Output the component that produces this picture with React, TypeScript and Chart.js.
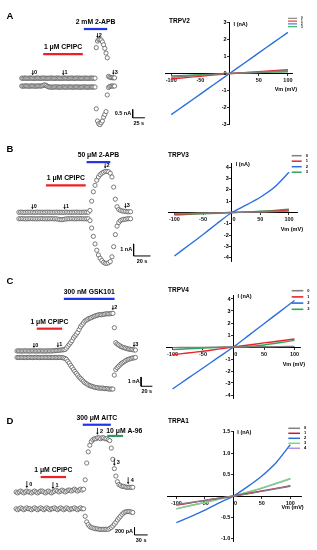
import React, { useEffect, useRef } from "react";
import { Chart, registerables } from "chart.js";
Chart.register(...registerables);

const FONT = '"Liberation Sans", Arial, Helvetica, sans-serif';

// ================= Time courses (upper: +100 mV, lower: -100 mV) =================
// Panel A (nA, sample interval 2.5 s)
const A_DT = 2.5;
const A_UPPER = [
  0.25, 0.24, 0.26, 0.25, 0.25, 0.24, 0.25, 0.26, 0.25, 0.25,
  0.24, 0.25, 0.25, 0.26, 0.25, 0.24, 0.25, 0.25, 0.26, 0.25,
  0.25, 0.24, 0.25, 0.25, 0.26, 0.25, 0.25, 0.24, 0.25, 0.26,
  0.25, 0.25, 0.24, 0.25, 0.25, 0.26, 0.25, 0.25, 0.24, 0.25,
  0.25, 0.26, 0.25, 0.24, 0.25, 0.25, 0.26, 0.25, 0.25, 0.24,
  0.25, 0.25, 0.26, 0.25, 0.24, 0.25, 0.25, 0.26, 0.25, 0.25,
  0.25,
  2.08, 2.47, 2.56, 2.56, 2.53, 2.42, 2.25, 2.03, 1.75, 1.47,
  0.36, 0.31, 0.28, 0.28, 0.27, 0.27,
];
const A_LOWER = [
  -0.22, -0.23, -0.22, -0.21, -0.22, -0.22, -0.23, -0.22, -0.21, -0.22,
  -0.22, -0.23, -0.22, -0.22, -0.21, -0.22, -0.22, -0.2, -0.17, -0.15,
  -0.18, -0.24, -0.27, -0.28, -0.28, -0.29, -0.28, -0.28, -0.27, -0.28,
  -0.28, -0.29, -0.28, -0.28, -0.27, -0.28, -0.29, -0.28, -0.28, -0.27,
  -0.28, -0.28, -0.29, -0.28, -0.28, -0.27, -0.28, -0.28, -0.29, -0.28,
  -0.28, -0.27, -0.28, -0.28, -0.29, -0.28, -0.28, -0.27, -0.28, -0.28,
  -0.28,
  -1.58, -2.31, -2.47, -2.53, -2.42, -2.31, -2.08, -1.92, -1.75, -0.75,
  -0.31, -0.25, -0.22, -0.22, -0.22, -0.22,
];

// Panel B (nA, sample interval 2 s)
const B_DT = 2;
const B_UPPER = [
  0.27, 0.28, 0.27, 0.26, 0.27, 0.27, 0.28, 0.27, 0.27, 0.26,
  0.27, 0.28, 0.27, 0.27, 0.26, 0.27, 0.27, 0.28, 0.27, 0.27,
  0.26, 0.27, 0.28, 0.27, 0.27, 0.27, 0.26, 0.27, 0.28, 0.27,
  0.27, 0.26, 0.27, 0.27, 0.28, 0.27, 0.27, 0.26, 0.27, 0.28,
  0.27, 0.27,
  0.42, 1.19, 1.96, 2.5, 2.92, 3.19, 3.38, 3.5, 3.58, 3.65,
  3.65, 3.62, 3.5, 3.19, 2.35, 1.35, 0.73, 0.5, 0.42, 0.38,
  0.35, 0.35, 0.31, 0.31, 0.31,
];
const B_LOWER = [
  -0.27, -0.27, -0.26, -0.27, -0.28, -0.27, -0.27, -0.26, -0.27, -0.27,
  -0.28, -0.27, -0.27, -0.26, -0.27, -0.27, -0.28, -0.27, -0.27, -0.26,
  -0.27, -0.28, -0.27, -0.3, -0.33, -0.35, -0.33, -0.3, -0.28, -0.27,
  -0.27, -0.26, -0.27, -0.28, -0.27, -0.27, -0.26, -0.27, -0.27, -0.28,
  -0.27, -0.27,
  -0.42, -1.04, -1.73, -2.35, -2.88, -3.27, -3.54, -3.73, -3.88, -3.96,
  -3.96, -3.92, -3.81, -3.42, -2.58, -1.58, -0.88, -0.58, -0.42, -0.35,
  -0.31, -0.31, -0.27, -0.27, -0.27,
];

// Panel C (nA, sample interval 2.5 s)
const C_DT = 2.5;
const C_UPPER = [
  0.3, 0.31, 0.3, 0.29, 0.3, 0.3, 0.31, 0.3, 0.3, 0.29,
  0.3, 0.31, 0.3, 0.3, 0.29, 0.3, 0.31, 0.3, 0.3, 0.3,
  0.29, 0.3, 0.31, 0.3, 0.3, 0.31, 0.32, 0.33, 0.35, 0.36,
  0.38, 0.4, 0.41, 0.43, 0.45,
  0.6, 0.8, 1.0, 1.2, 1.4, 1.7, 1.9, 2.1, 2.3, 2.6,
  2.9, 3.1, 3.3, 3.5, 3.6, 3.7, 3.8, 3.85, 3.9, 4.0,
  4.05, 4.1, 4.15, 4.2, 4.2, 4.2, 4.25, 4.25, 4.3, 4.3,
  4.3, 4.3, 4.35, 4.35,
  2.8,
  1.2, 1.05, 0.95, 0.85, 0.75, 0.7, 0.65, 0.6, 0.55, 0.5,
  0.5, 0.45, 0.45, 0.4, 0.4,
];
const C_LOWER = [
  -0.4, -0.41, -0.4, -0.39, -0.4, -0.4, -0.41, -0.4, -0.4, -0.39,
  -0.4, -0.41, -0.4, -0.4, -0.39, -0.4, -0.41, -0.4, -0.4, -0.4,
  -0.39, -0.4, -0.41, -0.4, -0.4, -0.41, -0.4, -0.39, -0.4, -0.41,
  -0.4, -0.4, -0.42, -0.45, -0.5,
  -0.6, -0.8, -1.0, -1.25, -1.45, -1.7, -1.9, -2.1, -2.3, -2.5,
  -2.65, -2.8, -2.95, -3.1, -3.2, -3.3, -3.4, -3.45, -3.5, -3.55,
  -3.6, -3.65, -3.65, -3.7, -3.7, -3.7, -3.7, -3.75, -3.75, -3.75,
  -3.8, -3.8, -3.8, -3.8,
  -2.3,
  -1.7, -1.5, -1.35, -1.2, -1.05, -0.95, -0.85, -0.75, -0.65, -0.6,
  -0.55, -0.5, -0.45, -0.45, -0.4,
];

// Panel D (pA, sample interval 3.5 s)
const D_DT = 3.5;
const D_UPPER = [
  225, 200, 225, 250, 225, 200, 225, 250, 225, 225,
  200, 225, 250, 225, 200, 225, 250, 250, 225, 200,
  225, 250, 225, 200, 225, 250, 275, 250, 225, 250,
  275, 250, 225, 250, 275, 275, 250, 275, 300, 275,
  250, 275, 300, 275, 300,
  550, 1000, 1300, 1475, 1575, 1625, 1650,
  1650, 1675, 1675, 1650, 1675, 1675, 1650, 1650, 1625, 1600,
  1400, 1100, 850, 650, 500, 425,
  400, 375, 375, 362, 350, 350, 350, 350, 350,
];
const D_LOWER = [
  -225, -250, -225, -200, -225, -250, -225, -200, -225, -225,
  -250, -225, -200, -225, -250, -225, -200, -225, -250, -225,
  -200, -225, -250, -225, -225, -200, -225, -250, -225, -200,
  -225, -250, -225, -200, -225, -250, -225, -225, -200, -225,
  -250, -225, -200, -225, -225,
  -425, -575, -650, -700, -725, -737, -750, -762, -762, -775,
  -775, -775, -775, -775, -775, -775, -750, -725, -687, -637,
  -587, -525, -475, -425, -375, -337, -312, -300, -300, -300,
  -312, -325,
];

// Drug applications (time in s, level in current units of the panel)
const RED = "#ee2027";
const BLUE = "#1f35e6";
const DGREEN = "#2f9a5c";
const A_DRUGS = [
  { label: "1 \u03bcM CPIPC", from: 44, to: 125, level: 1.69, color: RED },
  { label: "2 mM 2-APB", from: 127, to: 175, level: 3.19, color: BLUE },
];
const B_DRUGS = [
  { label: "1 \u03bcM CPIPC", from: 32, to: 79, level: 2.5, color: RED },
  { label: "50 \u03bcM 2-APB", from: 80, to: 108, level: 4.42, color: BLUE },
];
const C_DRUGS = [
  { label: "1 \u03bcM CPIPC", from: 35, to: 80, level: 2.7, color: RED },
  { label: "300 nM GSK101", from: 83, to: 173, level: 5.9, color: BLUE },
];
const D_DRUGS = [
  { label: "1 \u03bcM CPIPC", from: 56, to: 114, level: 625, color: RED },
  { label: "300 \u03bcM AITC", from: 152, to: 216, level: 2025, color: BLUE },
  { label: "10 \u03bcM A-96", from: 208, to: 244, level: 1725, color: DGREEN, align: "left", dy: -4.5 },
];

// Scale bars
const A_SCALE = { t: 227, i: -2.12, dt: 25, di: 0.5, tLabel: "25 s", iLabel: "0.5 nA" };
const B_SCALE = { t: 135.6, i: -3.35, dt: 20, di: 1, tLabel: "20 s", iLabel: "1 nA" };
const C_SCALE = { t: 220, i: -3.5, dt: 20, di: 1, tLabel: "20 s", iLabel: "1 nA" };
const D_SCALE = { t: 270, i: -925, dt: 30, di: 200, tLabel: "30 s", iLabel: "200 pA" };

// Ramp markers (sample index)
const A_MARKS = [{ label: "0", k: 9 }, { label: "1", k: 34 }, { label: "2", k: 62 }, { label: "3", k: 75 }];
const B_MARKS = [{ label: "0", k: 8 }, { label: "1", k: 27 }, { label: "2", k: 51 }, { label: "3", k: 63 }];
const C_MARKS = [{ label: "0", k: 12 }, { label: "1", k: 29 }, { label: "2", k: 68 }, { label: "3", k: 83 }];
const D_MARKS = [{ label: "0", k: 7 }, { label: "1", k: 24 }, { label: "2", k: 53 }, { label: "3", k: 64 }, { label: "4", k: 73 }];

// ================= I–V relations =================
const IV_VM = [-100, -75, -50, -25, 0, 25, 50, 75, 100];
const IV_X_TICKS = [-100, -50, 0, 50, 100];

const A_IV0 = [-0.22, -0.16, -0.11, -0.05, 0, 0.04, 0.08, 0.12, 0.16];
const A_IV1 = [-0.32, -0.24, -0.16, -0.08, 0, 0.05, 0.11, 0.16, 0.22];
const A_IV2 = [-2.42, -1.82, -1.21, -0.6, 0, 0.6, 1.21, 1.82, 2.42];
const A_IV3 = [-0.15, -0.11, -0.07, -0.04, 0, 0.03, 0.05, 0.08, 0.1];
const A_Y_TICKS = [-3, -2, -1, 0, 1, 2, 3];

const B_IV0 = [-0.1, -0.08, -0.05, -0.03, 0, 0.02, 0.05, 0.08, 0.12];
const B_IV1 = [-0.15, -0.11, -0.08, -0.04, 0, 0.03, 0.07, 0.12, 0.2];
const B_IV2 = [-3.85, -2.9, -1.95, -0.95, 0, 0.65, 1.35, 2.25, 3.56];
const B_IV3 = [-0.22, -0.17, -0.12, -0.06, 0, 0.05, 0.11, 0.19, 0.3];
const B_Y_TICKS = [-4, -3, -2, -1, 0, 1, 2, 3, 4];

const C_IV0 = [-0.05, -0.04, -0.03, -0.01, 0, 0.01, 0.02, 0.03, 0.05];
const C_IV1 = [-0.64, -0.5, -0.35, -0.18, 0, 0.17, 0.34, 0.5, 0.67];
const C_IV2 = [-3.5, -2.62, -1.75, -0.87, 0, 0.97, 1.94, 2.91, 3.88];
const C_IV3 = [-0.22, -0.15, -0.09, -0.04, 0, 0.04, 0.17, 0.35, 0.55];
const C_Y_TICKS = [-4, -3, -2, -1, 0, 1, 2, 3, 4];

const D_IV0 = [-0.2, -0.15, -0.1, -0.05, 0, 0.05, 0.11, 0.17, 0.23];
const D_IV1 = [-0.21, -0.16, -0.1, -0.05, 0, 0.06, 0.12, 0.18, 0.24];
const D_IV2 = [-0.62, -0.48, -0.33, -0.16, 0, 0.22, 0.47, 0.78, 1.2];
const D_IV3 = [-0.3, -0.22, -0.15, -0.07, 0, 0.09, 0.19, 0.3, 0.41];
const D_IV4 = [-0.3, -0.22, -0.15, -0.07, 0, 0.09, 0.18, 0.29, 0.4];
const D_Y_TICKS = [-1, -0.5, 0, 0.5, 1, 1.5];

const GRAY = "#808080";
const IV_RED = "#e8252c";
const IV_BLUE = "#2a6fe0";
const IV_GREEN = "#31a55c";
const D_RED = "#c8163f";
const D_GREEN = "#7bd67b";
const D_PURPLE = "#b28ee8";

// ================= Layout =================
const LEFT_W = 160;
const RIGHT_X = 160;
const RIGHT_W = 157;

const TRACE_PANELS = [
  { letter: "A", letterY: 16, top: 0, height: 135, dt: A_DT, upper: A_UPPER, lower: A_LOWER, x0: 18, kx: 0.52, y0: 83.5, ky: 18, drugs: A_DRUGS, scale: A_SCALE, marks: A_MARKS, markLen: 5, markGap: 1.3 },
  { letter: "B", letterY: 14, top: 135, height: 135, dt: B_DT, upper: B_UPPER, lower: B_LOWER, x0: 15, kx: 0.9, y0: 81.5, ky: 13, drugs: B_DRUGS, scale: B_SCALE, marks: B_MARKS, markLen: 5, markGap: 1.3 },
  { letter: "C", letterY: 11, top: 270, height: 135, dt: C_DT, upper: C_UPPER, lower: C_LOWER, x0: 13, kx: 0.6, y0: 85, ky: 10, drugs: C_DRUGS, scale: C_SCALE, marks: C_MARKS, markLen: 5, markGap: 1.3 },
  { letter: "D", letterY: 16, top: 405, height: 145, dt: D_DT, upper: D_UPPER, lower: D_LOWER, x0: 12, kx: 14 / 30, y0: 97, ky: 0.04, drugs: D_DRUGS, scale: D_SCALE, marks: D_MARKS, markLen: 7, markGap: 2.5 },
];

const IV_PANELS = [
  { title: "TRPV2", top: 0, height: 135, pad: { left: 5.4, right: 25, top: 22.5, bottom: 10.5 }, xmin: -110, xmax: 107, ymin: -3, ymax: 3, yTicks: A_Y_TICKS, series: [A_IV0, A_IV1, A_IV2, A_IV3], colors: [GRAY, IV_RED, IV_BLUE, IV_GREEN], labels: ["0", "1", "2", "3"], yZero: true, xZero: false, dec: 0, titleX: 9, titleY: 21, leg: { x: 128, y: 18.3, dy: 2.8, len: 9, size: 3, lw: 1.1 }, vmDx: 5, vmDy: 15.5 },
  { title: "TRPV3", top: 135, height: 135, pad: { left: 8.7, right: 20, top: 28.3, bottom: 8.3 }, xmin: -110, xmax: 114, ymin: -4.35, ymax: 4.35, yTicks: B_Y_TICKS, series: [B_IV0, B_IV1, B_IV2, B_IV3], colors: [GRAY, IV_RED, IV_BLUE, IV_GREEN], labels: ["0", "1", "2", "3"], yZero: false, xZero: true, dec: 0, titleX: 8, titleY: 20.7, leg: { x: 131.7, y: 20.7, dy: 5.5, len: 10, size: 4, lw: 1.5 }, vmDx: 6, vmDy: 16.5 },
  { title: "TRPV4", top: 270, height: 135, pad: { left: 6.7, right: 17, top: 25.4, bottom: 6.4 }, xmin: -109.5, xmax: 109, ymin: -4.3, ymax: 4.3, yTicks: C_Y_TICKS, series: [C_IV0, C_IV1, C_IV2, C_IV3], colors: [GRAY, IV_RED, IV_BLUE, IV_GREEN], labels: ["0", "1", "2", "3"], yZero: false, xZero: true, dec: 0, titleX: 8, titleY: 20, leg: { x: 131.7, y: 20.7, dy: 6.2, len: 11.6, size: 4, lw: 1.6 }, vmDx: 5, vmDy: 17 },
  { title: "TRPA1", top: 405, height: 145, pad: { left: 7.3, right: 15.3, top: 26, bottom: 9 }, xmin: -116, xmax: 120, ymin: -1.05, ymax: 1.52, yTicks: D_Y_TICKS, series: [D_IV0, D_IV1, D_IV2, D_IV3, D_IV4], colors: [GRAY, D_RED, IV_BLUE, D_GREEN, D_PURPLE], labels: ["0", "1", "2", "3", "4"], yZero: false, xZero: true, dec: 1, titleX: 8, titleY: 16.7, leg: { x: 128.3, y: 23.3, dy: 5, len: 11.7, size: 4, lw: 1.5 }, vmDx: 2, vmDy: 11 },
];

function TraceChart({ p }: { p: any }) {
  const ref = useRef<HTMLCanvasElement>(null);
  useEffect(() => {
    const xmin = -p.x0 / p.kx;
    const xmax = xmin + LEFT_W / p.kx;
    const ymax = p.y0 / p.ky;
    const ymin = ymax - p.height / p.ky;
    const toPts = (arr: number[]) => arr.map((v, i) => ({ x: i * p.dt, y: v }));
    const s = p.scale;
    const pointStyle = {
      showLine: false,
      pointRadius: 2.1,
      pointBorderWidth: 0.8,
      pointBorderColor: "#5c5c5c",
      pointBackgroundColor: "#ffffff",
      pointStyle: "circle",
      clip: false,
    };
    const datasets: any[] = [
      ...p.drugs.map((d: any) => ({
        data: [{ x: d.from, y: d.level }, { x: d.to, y: d.level }],
        showLine: true, borderColor: d.color, borderWidth: 2.2, pointRadius: 0, borderCapStyle: "butt", clip: false,
      })),
      { data: toPts(p.upper), ...pointStyle },
      { data: toPts(p.lower), ...pointStyle },
      {
        data: [{ x: s.t, y: s.i + s.di }, { x: s.t, y: s.i }, { x: s.t + s.dt, y: s.i }],
        showLine: true, borderColor: "#000", borderWidth: 1, pointRadius: 0, clip: false,
      },
    ];
    const textPlugin = {
      id: "traceText",
      afterDatasetsDraw(chart: any) {
        const ctx = chart.ctx;
        const xs = chart.scales.x, ys = chart.scales.y;
        ctx.save();
        ctx.fillStyle = "#000";
        ctx.strokeStyle = "#000";
        ctx.font = `bold 9.5px ${FONT}`;
        ctx.textAlign = "left";
        ctx.textBaseline = "middle";
        ctx.fillText(p.letter, 6.5, p.letterY);
        ctx.font = `bold 6.8px ${FONT}`;
        p.drugs.forEach((d: any) => {
          const x1 = xs.getPixelForValue(d.from), x2 = xs.getPixelForValue(d.to);
          const y = ys.getPixelForValue(d.level) + (d.dy ?? -7);
          if (d.align === "left") {
            ctx.textAlign = "left";
            ctx.fillText(d.label, x1 - 1, y);
          } else {
            ctx.textAlign = "center";
            ctx.fillText(d.label, (x1 + x2) / 2, y);
          }
        });
        ctx.font = `bold 5.5px ${FONT}`;
        ctx.textAlign = "left";
        p.marks.forEach((m: any) => {
          const x = xs.getPixelForValue(m.k * p.dt);
          const tip = ys.getPixelForValue(p.upper[m.k]) - 3;
          const top = tip - p.markLen;
          ctx.lineWidth = 0.8;
          ctx.beginPath();
          ctx.moveTo(x, top);
          ctx.lineTo(x, tip - 1.5);
          ctx.stroke();
          ctx.beginPath();
          ctx.moveTo(x - 1.3, tip - 2);
          ctx.lineTo(x + 1.3, tip - 2);
          ctx.lineTo(x, tip);
          ctx.closePath();
          ctx.fill();
          ctx.fillText(m.label, x + p.markGap, (top + tip) / 2);
        });
        const bx = xs.getPixelForValue(s.t);
        const by0 = ys.getPixelForValue(s.i);
        const by1 = ys.getPixelForValue(s.i + s.di);
        const bx1 = xs.getPixelForValue(s.t + s.dt);
        ctx.font = `bold 5.5px ${FONT}`;
        ctx.textAlign = "right";
        ctx.textBaseline = "middle";
        ctx.fillText(s.iLabel, bx - 1.5, (by0 + by1) / 2);
        ctx.textAlign = "center";
        ctx.fillText(s.tLabel, (bx + bx1) / 2, by0 + 5.5);
        ctx.restore();
      },
    };
    const chart = new Chart(ref.current as HTMLCanvasElement, {
      type: "scatter",
      data: { datasets },
      options: {
        responsive: false,
        maintainAspectRatio: false,
        animation: false,
        layout: { padding: 0 },
        plugins: { legend: { display: false }, tooltip: { enabled: false } },
        scales: {
          x: { type: "linear", display: false, min: xmin, max: xmax },
          y: { type: "linear", display: false, min: ymin, max: ymax },
        },
      } as any,
      plugins: [textPlugin],
    });
    return () => chart.destroy();
  }, []);
  return (
    <canvas
      ref={ref}
      width={LEFT_W}
      height={p.height}
      style={{ position: "absolute", left: 0, top: p.top, width: LEFT_W, height: p.height }}
    />
  );
}

function IVChart({ p }: { p: any }) {
  const ref = useRef<HTMLCanvasElement>(null);
  useEffect(() => {
    const tickFont = { family: FONT, size: 5.5, weight: "bold" as const };
    const datasets = p.series.map((arr: number[], si: number) => ({
      label: p.labels[si],
      data: arr.map((v, i) => ({ x: IV_VM[i], y: v })),
      showLine: true,
      borderColor: p.colors[si],
      backgroundColor: p.colors[si],
      borderWidth: 1.4,
      pointRadius: 0,
      tension: 0.2,
      clip: false,
    }));
    const axisCommon = {
      type: "linear",
      grid: { display: true, drawOnChartArea: false, drawTicks: true, tickLength: 2, color: "#000", lineWidth: 0.8 },
      border: { display: true, color: "#000", width: 1 },
    };
    const textPlugin = {
      id: "ivText",
      afterDraw(chart: any) {
        const ctx = chart.ctx;
        const ca = chart.chartArea;
        const xs = chart.scales.x, ys = chart.scales.y;
        const ax = xs.getPixelForValue(0), ay = ys.getPixelForValue(0);
        ctx.save();
        ctx.fillStyle = "#000";
        ctx.textBaseline = "middle";
        // y tick labels, left of the axis
        ctx.font = `bold 5.5px ${FONT}`;
        ctx.textAlign = "right";
        ys.ticks.forEach((t: any) => {
          if (t.value === 0 && !p.yZero) return;
          const txt = t.value === 0 ? "0" : Number(t.value).toFixed(p.dec);
          ctx.fillText(txt, ax - 3, ys.getPixelForValue(t.value));
        });
        ctx.textAlign = "left";
        ctx.font = `bold 6.5px ${FONT}`;
        ctx.fillText(p.title, p.titleX, p.titleY);
        ctx.font = `bold 5.5px ${FONT}`;
        ctx.fillText("I (nA)", ax + 4, ca.top + 1.5);
        ctx.textAlign = "right";
        ctx.fillText("Vm (mV)", ca.right + p.vmDx, ay + p.vmDy);
        const L = p.leg;
        ctx.font = `bold ${L.size}px ${FONT}`;
        ctx.textAlign = "left";
        chart.data.datasets.forEach((ds: any, i: number) => {
          const y = L.y + i * L.dy;
          ctx.strokeStyle = ds.borderColor;
          ctx.lineWidth = L.lw;
          ctx.beginPath();
          ctx.moveTo(L.x, y);
          ctx.lineTo(L.x + L.len, y);
          ctx.stroke();
          ctx.fillStyle = "#000";
          ctx.fillText(ds.label, L.x + L.len + 4, y);
        });
        ctx.restore();
      },
    };
    const chart = new Chart(ref.current as HTMLCanvasElement, {
      type: "scatter",
      data: { datasets },
      options: {
        responsive: false,
        maintainAspectRatio: false,
        animation: false,
        layout: { padding: p.pad },
        plugins: { legend: { display: false }, tooltip: { enabled: false } },
        scales: {
          x: {
            ...axisCommon,
            min: p.xmin,
            max: p.xmax,
            position: { y: 0 },
            afterBuildTicks: (axis: any) => {
              axis.ticks = IV_X_TICKS.map((v) => ({ value: v }));
            },
            ticks: {
              font: tickFont, color: "#111", padding: 2, autoSkip: false, maxRotation: 0,
              callback: (v: any) => (v === 0 ? (p.xZero ? "   0" : "") : String(v)),
            },
          },
          y: {
            ...axisCommon,
            min: p.ymin,
            max: p.ymax,
            position: { x: 0 },
            afterBuildTicks: (axis: any) => {
              axis.ticks = p.yTicks.map((v: number) => ({ value: v }));
            },
            ticks: { display: false, autoSkip: false },
          },
        },
      } as any,
      plugins: [textPlugin],
    });
    return () => chart.destroy();
  }, []);
  return (
    <canvas
      ref={ref}
      width={RIGHT_W}
      height={p.height}
      style={{ position: "absolute", left: RIGHT_X, top: p.top, width: RIGHT_W, height: p.height }}
    />
  );
}

export default function App() {
  return (
    <div style={{ position: "absolute", left: 0, top: 0, width: 317, height: 550, background: "#fff", overflow: "hidden" }}>
      {TRACE_PANELS.map((p) => (
        <TraceChart key={"t" + p.letter} p={p} />
      ))}
      {IV_PANELS.map((p) => (
        <IVChart key={"iv" + p.title} p={p} />
      ))}
    </div>
  );
}
